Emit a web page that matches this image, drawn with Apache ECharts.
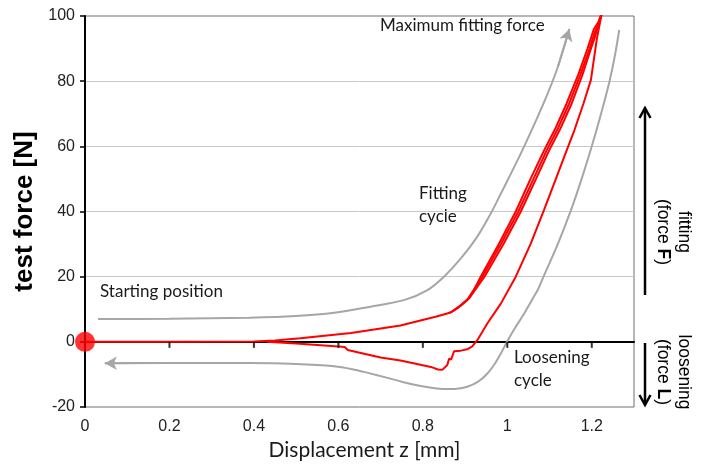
<!DOCTYPE html>
<html lang="en">
<head>
    <meta charset="UTF-8">
    <title>Fitting / loosening cycle</title>
    <script src="https://cdn.jsdelivr.net/npm/echarts@6/dist/echarts.min.js"></script>
    <style>
        html, body {margin: 0; padding: 0; background: #fff;}
    </style>
</head>
<body>
<div id="main" style="width: 704px;height: 468px;"></div>

<script type="text/javascript">
    // axis ticks
    var xTicks = [0, 0.2, 0.4, 0.6, 0.8, 1, 1.2];
    var yTicks = [-20, 0, 20, 40, 60, 80, 100];

    // red measured curves [displacement mm, force N]
    var redFitA = [[0,0],[0.2,0],[0.4,0.1],[0.45,0.4],[0.51,1.1],[0.63,2.7],[0.747,5.0],[0.83,7.7],[0.866,9.0],[0.885,10.6],[0.905,12.8],
        [0.921,15.9],[0.937,20],[0.98,30],[1.02,40],[1.055,50],[1.088,59],[1.112,65],[1.14,73],[1.168,82],[1.19,90],[1.205,96],[1.215,98],[1.224,101]];
    var redFitB = [[0.86,8.8],[0.868,9.2],[0.888,11],[0.907,13.2],
        [0.941,20],[0.985,30],[1.026,40],[1.062,50],[1.094,59],[1.118,65],[1.146,73],[1.173,82],[1.195,90],[1.207,95],[1.218,98.5],[1.224,101]];
    var redFitC = [[0.87,9.4],[0.89,11.2],[0.91,13.4],
        [0.946,20],[0.991,30],[1.032,40],[1.068,50],[1.1,59],[1.124,65],[1.152,73],[1.178,82],[1.198,90],[1.206,93],[1.214,96.5],[1.224,101]];
    var redUnload = [[1.224,101],[1.218,97],[1.212,93],[1.198,80.4],[1.18,73],[1.159,65],[1.141,58.9],[1.115,50],[1.087,40.5],[1.055,30],
        [1.02,20],[0.985,11.8],[0.953,5.7],[0.929,0.5],[0.917,-1.4],[0.905,-2.3],[0.89,-2.7],[0.874,-2.9],[0.87,-3.5],
        [0.867,-5.4],[0.862,-5.2],[0.858,-7.1],[0.846,-8.6],[0.836,-8.5],[0.819,-7.7],[0.747,-5.7],[0.7,-4.8],[0.622,-2.5],[0.615,-1.6],[0.6,-1.4],
        [0.5,-0.5],[0.43,0]];

    // grey guide arrows
    var greyFit = [[0.031,7],[0.2,7.1],[0.39,7.4],[0.5,7.9],[0.59,8.9],[0.676,10.8],[0.755,12.8],[0.811,15.9],[0.85,20],[0.89,25.6],
        [0.929,32.3],[0.961,39.4],[0.977,43.5],[1.01,52],[1.04,60],[1.07,68.5],[1.095,76],[1.12,84.5],[1.147,96]];
    var greyLoose = [[1.265,95.7],[1.255,88],[1.242,80],[1.222,70],[1.2,60],[1.176,50],[1.151,40.5],[1.118,29.5],[1.084,19.5],[1.072,15.9],
        [1.058,12.8],[1.04,8.7],[1.02,4.6],[1.0,0.2],[0.985,-3.5],[0.97,-6.8],[0.953,-9.7],[0.93,-12.3],[0.905,-13.8],[0.88,-14.4],
        [0.85,-14.5],[0.82,-14.1],[0.792,-13.5],[0.752,-12.3],[0.712,-10.9],[0.672,-9.6],[0.633,-8.4],[0.59,-7.5],[0.5,-6.8],[0.39,-6.5],
        [0.2,-6.5],[0.047,-6.6]];

    var startPoint = [[0, 0]];

    var myChart = echarts.init(document.getElementById('main'));

    function redLine(data) {
        return {
            type: 'line', data: data, showSymbol: false, symbol: 'none',
            lineStyle: {color: '#ff0000', width: 2}, z: 4
        };
    }
    function arrowEnd(data) {
        return {
            silent: true, symbol: ['none', 'arrow'], symbolSize: [10, 12],
            label: {show: false}, lineStyle: {color: '#a6a6a6', width: 2, type: 'solid'},
            data: [[{coord: data[data.length - 2]}, {coord: data[data.length - 1]}]]
        };
    }
    function greyLine(data) {
        return {
            type: 'line', data: data, showSymbol: false, symbol: 'none', smooth: 0.3,
            lineStyle: {color: '#a6a6a6', width: 2}, z: 3, markLine: arrowEnd(data)
        };
    }

    var txt = {fontFamily: 'Lato', fontSize: 17, fill: '#1a1a1a'};

    var option = {
        animation: false,
        grid: {left: 85, top: 16, right: 70, bottom: 61, show: true, borderColor: '#6e6e6e', borderWidth: 1, containLabel: false},
        xAxis: {
            type: 'value', min: 0, max: 1.3, interval: 0.2, position: 'bottom',
            name: 'Displacement z [mm]', nameLocation: 'middle', nameGap: 32,
            nameTextStyle: {fontFamily: 'Lato', fontSize: 21, color: '#1a1a1a', padding: [0, 0, 0, 10]},
            axisLine: {show: true, onZero: true, lineStyle: {color: '#000', width: 2}},
            axisTick: {show: false},
            splitLine: {show: false},
            axisLabel: {
                margin: 12, fontFamily: 'Liberation Sans', fontSize: 16, color: '#222', showMaxLabel: false,
                formatter: function (v) { return xTicks.indexOf(Math.round(v * 10) / 10) >= 0 ? String(Math.round(v * 10) / 10) : ''; }
            }
        },
        yAxis: {
            type: 'value', min: -20, max: 100, interval: 20,
            name: 'test force [N]', nameLocation: 'middle', nameGap: 47,
            nameTextStyle: {fontFamily: 'Liberation Sans', fontSize: 26, fontWeight: 'bold', color: '#000'},
            axisLine: {show: true, onZero: false, lineStyle: {color: '#000', width: 2}},
            axisTick: {show: true, length: 5, lineStyle: {color: '#000', width: 1.5}},
            axisLabel: {
                margin: 10, fontFamily: 'Liberation Sans', fontSize: 16, color: '#222',
                formatter: function (v) { return yTicks.indexOf(v) >= 0 ? String(v) : ''; }
            },
            splitLine: {show: true, showMinLine: false, showMaxLine: false, lineStyle: {color: '#c8c8c8', width: 1}}
        },
        series: [
            greyLine(greyFit),
            greyLine(greyLoose),
            redLine(redFitA),
            redLine(redFitB),
            redLine(redFitC),
            redLine(redUnload),
            { // tick marks hanging below the zero line
                type: 'scatter', silent: true, z: 5, clip: false,
                data: xTicks.slice(1).map(function (v) { return [v, 0]; }),
                symbol: 'rect', symbolSize: [2, 6], symbolOffset: [0, 3],
                itemStyle: {color: '#000'}
            },
            {
                type: 'scatter', data: startPoint, symbolSize: 20, clip: false, z: 6,
                itemStyle: {color: '#ff0000'}
            }
        ],
        graphic: [
            {type: 'text', x: 380, y: 26, style: Object.assign({text: 'Maximum fitting force', verticalAlign: 'middle'}, txt)},
            {type: 'text', x: 419, y: 205, style: Object.assign({text: 'Fitting\ncycle', verticalAlign: 'middle', lineHeight: 23}, txt)},
            {type: 'text', x: 100, y: 292, style: Object.assign({text: 'Starting position', verticalAlign: 'middle'}, txt)},
            {type: 'text', x: 514, y: 369, style: Object.assign({text: 'Loosening\ncycle', verticalAlign: 'middle', lineHeight: 23}, txt)},
            // right side direction arrows
            {type: 'line', shape: {x1: 645, y1: 295, x2: 645, y2: 109}, style: {stroke: '#000', lineWidth: 2.5}},
            {type: 'polyline', shape: {points: [[639.5, 118], [645, 108], [650.5, 118]]}, style: {stroke: '#000', lineWidth: 2.5, fill: null}},
            {type: 'line', shape: {x1: 645, y1: 343, x2: 645, y2: 404}, style: {stroke: '#000', lineWidth: 2.5}},
            {type: 'polyline', shape: {points: [[639.5, 395], [645, 405], [650.5, 395]]}, style: {stroke: '#000', lineWidth: 2.5, fill: null}},
            {
                type: 'text', x: 673, y: 232, rotation: -Math.PI / 2,
                style: {
                    text: '{n|fitting}\n{n|(force }{b|F}{n|)}', align: 'center', verticalAlign: 'middle',
                    rich: {
                        n: {fontFamily: 'Liberation Sans', fontSize: 17.5, lineHeight: 21, color: '#111'},
                        b: {fontFamily: 'Liberation Sans', fontSize: 17.5, lineHeight: 21, fontWeight: 'bold', color: '#111'}
                    }
                }
            },
            {
                type: 'text', x: 673, y: 372, rotation: -Math.PI / 2,
                style: {
                    text: '{n|loosening}\n{n|(force }{b|L}{n|)}', align: 'center', verticalAlign: 'middle',
                    rich: {
                        n: {fontFamily: 'Liberation Sans', fontSize: 17.5, lineHeight: 21, color: '#111'},
                        b: {fontFamily: 'Liberation Sans', fontSize: 17.5, lineHeight: 21, fontWeight: 'bold', color: '#111'}
                    }
                }
            }
        ]
    };

    myChart.setOption(option);
</script>
</body>
</html>
